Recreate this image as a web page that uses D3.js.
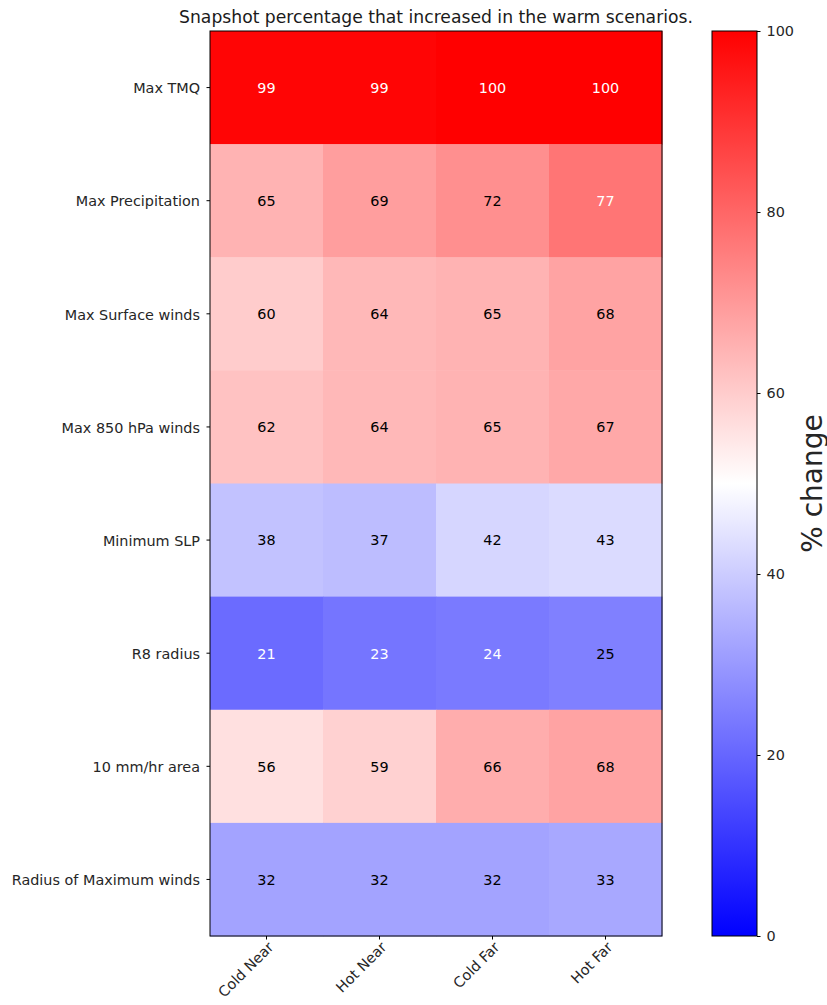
<!DOCTYPE html>
<html>
<head>
<meta charset="utf-8">
<script src="https://cdn.jsdelivr.net/npm/d3@7"></script>
<style>
  body { margin: 0; background: #fff; }
  svg text { font-family: "DejaVu Sans", sans-serif; fill: #262626; }
</style>
</head>
<body>
<svg id="chart" width="827" height="1005"></svg>
<script>
// Rows (metrics) and columns (scenarios)
const metrics = ["Max TMQ", "Max Precipitation", "Max Surface winds", "Max 850 hPa winds",
                 "Minimum SLP", "R8 radius", "10 mm/hr area", "Radius of Maximum winds"];
const scenarios = ["Cold Near", "Hot Near", "Cold Far", "Hot Far"];

// Percentage of snapshots that increased, one array per metric row
const maxTMQ        = [99, 99, 100, 100];
const maxPrecip     = [65, 69, 72, 77];
const maxSfcWinds   = [60, 64, 65, 68];
const max850Winds   = [62, 64, 65, 67];
const minSLP        = [38, 37, 42, 43];
const r8Radius      = [21, 23, 24, 25];
const rainArea10    = [56, 59, 66, 68];
const rmw           = [32, 32, 32, 33];
const rows = [maxTMQ, maxPrecip, maxSfcWinds, max850Winds, minSLP, r8Radius, rainArea10, rmw];

const colorbarTicks = [0, 20, 40, 60, 80, 100];

const svg = d3.select("#chart");
const plotL = 210, plotR = 662, plotT = 31, plotB = 936;
const fs = "14.4px";

const x = d3.scaleBand().domain(scenarios).range([plotL, plotR]);
const y = d3.scaleBand().domain(metrics).range([plotT, plotB]);

// Blue-white-red diverging colormap over 0..100
const color = d3.scaleLinear().domain([0, 50, 100])
  .range(["#0000ff", "#ffffff", "#ff0000"]).interpolate(d3.interpolateRgb);

const cells = [];
rows.forEach((vals, i) => vals.forEach((v, j) => cells.push({ m: metrics[i], s: scenarios[j], v })));

svg.append("g").selectAll("rect").data(cells).join("rect")
  .attr("x", d => x(d.s)).attr("y", d => y(d.m))
  .attr("width", x.bandwidth() + 0.5).attr("height", y.bandwidth() + 0.5)
  .attr("fill", d => color(d.v));

svg.append("g").selectAll("text").data(cells).join("text")
  .attr("x", d => x(d.s) + x.bandwidth() / 2)
  .attr("y", d => y(d.m) + y.bandwidth() / 2)
  .attr("dy", "0.37em")
  .attr("text-anchor", "middle")
  .style("font-size", fs)
  .style("fill", d => (d.v <= 24 || d.v >= 75) ? "#ffffff" : "#000000")
  .text(d => d.v);

// Frame
svg.append("rect").attr("x", plotL).attr("y", plotT)
  .attr("width", plotR - plotL).attr("height", plotB - plotT)
  .attr("fill", "none").attr("stroke", "#000").attr("stroke-width", 1);

// Y axis
const yAxis = svg.append("g").attr("transform", `translate(${plotL},0)`)
  .call(d3.axisLeft(y).tickSize(3.5).tickPadding(6.5));
yAxis.select(".domain").remove();
yAxis.selectAll("text").style("font-size", fs).style("fill", "#262626").attr("dy", "0.4em");

// X axis with rotated labels
const xAxis = svg.append("g").attr("transform", `translate(0,${plotB})`)
  .call(d3.axisBottom(x).tickSize(3.5));
xAxis.select(".domain").remove();
xAxis.selectAll("text").style("font-size", fs).style("fill", "#262626")
  .attr("x", null).attr("y", null).attr("dy", null)
  .attr("text-anchor", "end")
  .attr("transform", "translate(8,12) rotate(-45)");

// Title
svg.append("text").attr("x", (plotL + plotR) / 2).attr("y", 23)
  .attr("text-anchor", "middle").style("font-size", "17.2px").style("fill", "#1a1a1a")
  .text("Snapshot percentage that increased in the warm scenarios.");

// Colorbar
const cbX = 712, cbW = 45;
const cbScale = d3.scaleLinear().domain([0, 100]).range([plotB, plotT]);
const defs = svg.append("defs");
const grad = defs.append("linearGradient").attr("id", "cbgrad")
  .attr("x1", 0).attr("y1", 1).attr("x2", 0).attr("y2", 0);
[0, 50, 100].forEach(v => grad.append("stop")
  .attr("offset", `${v}%`).attr("stop-color", color(v)));
svg.append("rect").attr("x", cbX).attr("y", plotT).attr("width", cbW).attr("height", plotB - plotT)
  .attr("fill", "url(#cbgrad)").attr("stroke", "#000").attr("stroke-width", 1);

const cbAxis = svg.append("g").attr("transform", `translate(${cbX + cbW},0)`)
  .call(d3.axisRight(cbScale).tickValues(colorbarTicks).tickSize(3.5).tickPadding(6));
cbAxis.select(".domain").remove();
cbAxis.selectAll("text").style("font-size", fs).style("fill", "#262626");

svg.append("text")
  .attr("transform", `translate(812,${(plotT + plotB) / 2}) rotate(-90)`)
  .attr("text-anchor", "middle").attr("dominant-baseline", "central")
  .style("font-size", "28px").style("fill", "#262626")
  .text("% change");
</script>
</body>
</html>
